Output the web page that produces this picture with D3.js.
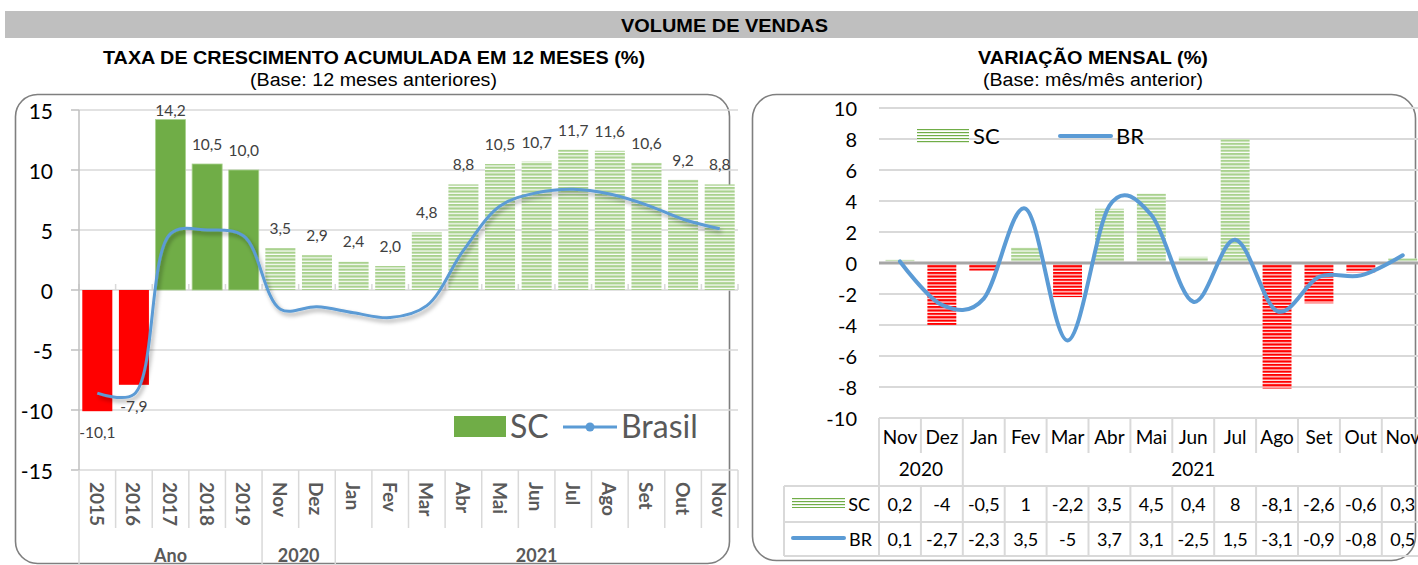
<!DOCTYPE html>
<html><head><meta charset="utf-8">
<script src="https://cdn.jsdelivr.net/npm/d3@7"></script>
<style>
html,body{margin:0;padding:0;background:#fff;}
svg{display:block;}
text{font-family:Lato,"Open Sans",sans-serif;}
.narrow{font-family:"Liberation Sans Narrow","Arial Narrow","Liberation Sans",Arial,sans-serif;font-stretch:condensed;}
</style></head>
<body>
<svg id="c" width="1418" height="565"></svg>
<script>
// ---------- DATA ----------
const leftCats = ["2015","2016","2017","2018","2019","Nov","Dez","Jan","Fev","Mar","Abr","Mai","Jun","Jul","Ago","Set","Out","Nov"];
const leftGroupLabels = ["Ano","2020","2021"];
const leftGroupSizes = [5,2,11];
const scAccum = [-10.1,-7.9,14.2,10.5,10.0,3.5,2.9,2.4,2.0,4.8,8.8,10.5,10.7,11.7,11.6,10.6,9.2,8.8];
const brAccum = [-8.6,-8.7,4.7,5.0,4.5,-1.6,-1.4,-1.9,-2.3,-1.3,3.3,7.0,8.1,8.4,8.0,7.1,5.9,5.1];
const leftTicks = [-15,-10,-5,0,5,10,15];

const rightCats = ["Nov","Dez","Jan","Fev","Mar","Abr","Mai","Jun","Jul","Ago","Set","Out","Nov"];
const rightGroupLabels = ["2020","2021"];
const rightGroupSizes = [2,11];
const scMonthly = [0.2,-4,-0.5,1,-2.2,3.5,4.5,0.4,8,-8.1,-2.6,-0.6,0.3];
const brMonthly = [0.1,-2.7,-2.3,3.5,-5,3.7,3.1,-2.5,1.5,-3.1,-0.9,-0.8,0.5];
const rightTicks = [-10,-8,-6,-4,-2,0,2,4,6,8,10];

const fmt = v => String(v).replace('.', ',');
const fmt1 = v => v.toFixed(1).replace('.', ',');

// ---------- SETUP ----------
const svg = d3.select("#c");
const defs = svg.append("defs");
function stripe(id, color, h, lineH){
  const p = defs.append("pattern").attr("id", id).attr("patternUnits","userSpaceOnUse")
    .attr("width", 10).attr("height", h);
  p.append("rect").attr("width",10).attr("height",h).attr("fill","#fff");
  p.append("rect").attr("width",10).attr("height",lineH).attr("fill",color);
}
stripe("stG", "#a9d18e", 3.4, 2.2);
stripe("stR", "#ff0000", 3.4, 2.2);
stripe("stLegG", "#70ad47", 3, 1.2);
const sh = defs.append("filter").attr("id","shadow").attr("x","-10%").attr("y","-10%").attr("width","130%").attr("height","130%");
sh.append("feDropShadow").attr("dx",2).attr("dy",3).attr("stdDeviation",2).attr("flood-color","#000").attr("flood-opacity",0.35);

// ---------- HEADER ----------
svg.append("rect").attr("x",5).attr("y",11).attr("width",1413).attr("height",27).attr("fill","#bfbfbf");
function title(txt, cx, cy, len, size, bold){
  svg.append("text").attr("class","narrow").attr("x",cx).attr("y",cy)
    .attr("text-anchor","middle").attr("dominant-baseline","central")
    .attr("font-size",size).attr("font-weight",bold?"bold":"normal").attr("fill","#000")
    .attr("textLength",len).attr("lengthAdjust","spacingAndGlyphs").text(txt);
}
title("VOLUME DE VENDAS", 724.5, 26, 207, 18, true);
title("TAXA DE CRESCIMENTO ACUMULADA EM 12 MESES (%)", 374, 57, 542, 19, true);
title("(Base: 12 meses anteriores)", 373.5, 80, 247, 18, false);
title("VARIAÇÃO MENSAL (%)", 1093, 57, 230, 19, true);
title("(Base: mês/mês anterior)", 1093, 80, 220, 18, false);

// boxes
svg.append("rect").attr("x",15.5).attr("y",94.5).attr("width",714).attr("height",469).attr("rx",22)
  .attr("fill","none").attr("stroke","#7f7f7f").attr("stroke-width",1.6);
svg.append("rect").attr("x",752.5).attr("y",94.5).attr("width",663).attr("height",466).attr("rx",24)
  .attr("fill","none").attr("stroke","#7f7f7f").attr("stroke-width",1.6);

// ---------- LEFT CHART ----------
const xL = d3.scaleBand().domain(d3.range(leftCats.length)).range([79, 738]).padding(0);
const yL = d3.scaleLinear().domain([-15, 15]).range([470, 110]);
const bwL = xL.bandwidth() * 0.82;
const gL = svg.append("g");

gL.selectAll(".gl").data(leftTicks).join("line")
  .attr("x1",79).attr("x2",738).attr("y1",d=>yL(d)).attr("y2",d=>yL(d))
  .attr("stroke","#d9d9d9").attr("stroke-width",1.5);

const groupOf = [];
leftGroupSizes.forEach((n,gi)=>{ for(let k=0;k<n;k++) groupOf.push(gi); });

gL.selectAll(".bar").data(scAccum).join("rect")
  .attr("x",(d,i)=>xL(i)+(xL.bandwidth()-bwL)/2)
  .attr("width",bwL)
  .attr("y",d=>yL(Math.max(0,d)))
  .attr("height",d=>Math.abs(yL(d)-yL(0)))
  .attr("fill",(d,i)=> d<0 ? "#ff0000" : (groupOf[i]===0 ? "#70ad47" : "url(#stG)"))
  .attr("stroke",(d,i)=> d<0 ? "none" : (groupOf[i]===0 ? "#a9d18e" : "none"))
  .attr("stroke-width",0.8);

gL.selectAll(".zt").data(d3.range(leftCats.length+1)).join("line")
  .attr("x1",i=>79+i*xL.step()).attr("x2",i=>79+i*xL.step())
  .attr("y1",yL(0)-6).attr("y2",yL(0)).attr("stroke","#d9d9d9").attr("stroke-width",1.5);

const lineL = d3.line().x((d,i)=>xL(i)+xL.bandwidth()/2).y(d=>yL(d)).curve(d3.curveCatmullRom.alpha(0.5));
gL.append("path").datum(brAccum).attr("d",lineL).attr("fill","none")
  .attr("stroke","#5b9bd5").attr("stroke-width",3).attr("filter","url(#shadow)");

gL.selectAll(".dl").data(scAccum).join("text")
  .attr("x",(d,i)=>xL(i)+xL.bandwidth()/2)
  .attr("y",d=> d>=0 ? Math.max(yL(d)-14, 116) : yL(d)+27)
  .attr("text-anchor","middle").attr("font-size",15.5).attr("fill","#404040")
  .text(d=>fmt1(d));

gL.append("line").attr("x1",79).attr("x2",79).attr("y1",yL(15)).attr("y2",yL(-15))
  .attr("stroke","#bfbfbf").attr("stroke-width",1.5);
gL.selectAll(".yt").data(leftTicks).join("line")
  .attr("x1",71).attr("x2",79).attr("y1",d=>yL(d)).attr("y2",d=>yL(d))
  .attr("stroke","#bfbfbf").attr("stroke-width",1.5);
gL.selectAll(".yl").data(leftTicks).join("text")
  .attr("x",53).attr("y",d=>yL(d)).attr("text-anchor","end").attr("dominant-baseline","central")
  .attr("font-size",21).attr("fill","#000").text(d=>d);

const groupStarts = [0];
leftGroupSizes.forEach((n,gi)=>groupStarts.push(groupStarts[gi]+n));
gL.selectAll(".xs").data(d3.range(leftCats.length+1)).join("line")
  .attr("x1",i=>79+i*xL.step()).attr("x2",i=>79+i*xL.step())
  .attr("y1",470).attr("y2",i=> groupStarts.includes(i) && i<leftCats.length ? 565 : 528)
  .attr("stroke","#d9d9d9").attr("stroke-width",1.5);
gL.selectAll(".xl").data(leftCats).join("text")
  .attr("transform",(d,i)=>`translate(${xL(i)+xL.bandwidth()/2},482) rotate(90)`)
  .attr("text-anchor","start").attr("dominant-baseline","central")
  .attr("font-size",19).attr("font-weight","bold").attr("fill","#595959").text(d=>d);
gL.selectAll(".gl2").data(leftGroupLabels).join("text")
  .attr("x",(d,gi)=>(xL(groupStarts[gi]) + xL(groupStarts[gi+1]-1)+xL.bandwidth())/2)
  .attr("y",555).attr("text-anchor","middle").attr("dominant-baseline","central")
  .attr("font-size",18).attr("font-weight","bold").attr("fill","#595959").text(d=>d);

gL.append("rect").attr("x",454).attr("y",416).attr("width",52).attr("height",21).attr("fill","#70ad47");
gL.append("text").attr("x",510).attr("y",438).attr("font-size",32).attr("fill","#595959").text("SC");
gL.append("line").attr("x1",563).attr("x2",617).attr("y1",427).attr("y2",427).attr("stroke","#5b9bd5").attr("stroke-width",3);
gL.append("circle").attr("cx",590).attr("cy",427).attr("r",4.5).attr("fill","#5b9bd5");
gL.append("text").attr("x",621).attr("y",438).attr("font-size",32).attr("fill","#595959").text("Brasil");

// ---------- RIGHT CHART ----------
const xR = d3.scaleBand().domain(d3.range(rightCats.length)).range([879, 879+13*41.9]).padding(0);
const yR = d3.scaleLinear().domain([-10, 10]).range([418, 108]);
const bwR = xR.bandwidth()*0.69;
const gR = svg.append("g");

gR.selectAll(".gl").data(rightTicks.filter(d=>d!==0 && d!==-10)).join("line")
  .attr("x1",879).attr("x2",1418).attr("y1",d=>yR(d)).attr("y2",d=>yR(d))
  .attr("stroke","#d9d9d9").attr("stroke-width",2);

gR.selectAll(".bar").data(scMonthly).join("rect")
  .attr("x",(d,i)=>xR(i)+(xR.bandwidth()-bwR)/2)
  .attr("width",bwR)
  .attr("y",d=>yR(Math.max(0,d)))
  .attr("height",d=>Math.abs(yR(d)-yR(0)))
  .attr("fill",d=> d<0 ? "url(#stR)" : "url(#stG)");

gR.append("line").attr("x1",879).attr("x2",1418).attr("y1",yR(0)).attr("y2",yR(0))
  .attr("stroke","#a6a6a6").attr("stroke-width",3);

const lineR = d3.line().x((d,i)=>xR(i)+xR.bandwidth()/2).y(d=>yR(d)).curve(d3.curveCatmullRom.alpha(0));
gR.append("path").datum(brMonthly).attr("d",lineR).attr("fill","none")
  .attr("stroke","#5b9bd5").attr("stroke-width",4).attr("stroke-linecap","round");

gR.selectAll(".yl").data(rightTicks).join("text")
  .attr("x",857).attr("y",d=>yR(d)).attr("text-anchor","end").attr("dominant-baseline","central")
  .attr("font-size",20).attr("fill","#000").text(d=>d);

gR.append("rect").attr("x",917).attr("y",128).attr("width",52).attr("height",16).attr("fill","url(#stLegG)");
gR.append("text").attr("x",973).attr("y",144).attr("font-size",22).attr("fill","#000").text("SC");
gR.append("line").attr("x1",1060).attr("x2",1111).attr("y1",136).attr("y2",136).attr("stroke","#5b9bd5").attr("stroke-width",4).attr("stroke-linecap","round");
gR.append("text").attr("x",1116).attr("y",144).attr("font-size",22).attr("fill","#000").text("BR");

const tc = "#d9d9d9";
const rGroupStarts = [0];
rightGroupSizes.forEach((n,gi)=>rGroupStarts.push(rGroupStarts[gi]+n));
const bnd = i => 879 + i*xR.step();
[418].forEach(y=>gR.append("line").attr("x1",879).attr("x2",1418).attr("y1",y).attr("y2",y).attr("stroke",tc).attr("stroke-width",2));
[486,522,556].forEach(y=>gR.append("line").attr("x1",784).attr("x2",1418).attr("y1",y).attr("y2",y).attr("stroke",tc).attr("stroke-width",2));
gR.selectAll(".ms").data(d3.range(rightCats.length+1)).join("line")
  .attr("x1",bnd).attr("x2",bnd).attr("y1",418)
  .attr("y2",i=> rGroupStarts.includes(i) ? 486 : 453)
  .attr("stroke",tc).attr("stroke-width",2);
gR.selectAll(".ds").data(d3.range(rightCats.length+1)).join("line")
  .attr("x1",bnd).attr("x2",bnd).attr("y1",486).attr("y2",556)
  .attr("stroke",tc).attr("stroke-width",2);
gR.append("line").attr("x1",784).attr("x2",784).attr("y1",486).attr("y2",556).attr("stroke",tc).attr("stroke-width",2);

gR.selectAll(".ml").data(rightCats).join("text")
  .attr("x",(d,i)=>xR(i)+xR.bandwidth()/2).attr("y",436)
  .attr("text-anchor","middle").attr("dominant-baseline","central")
  .attr("font-size",19).attr("fill","#000").text(d=>d);
gR.selectAll(".yg").data(rightGroupLabels).join("text")
  .attr("x",(d,gi)=>(bnd(rGroupStarts[gi])+bnd(rGroupStarts[gi+1]))/2).attr("y",468)
  .attr("text-anchor","middle").attr("dominant-baseline","central")
  .attr("font-size",19).attr("fill","#000").text(d=>d);
gR.selectAll(".sv").data(scMonthly).join("text")
  .attr("x",(d,i)=>xR(i)+xR.bandwidth()/2).attr("y",504)
  .attr("text-anchor","middle").attr("dominant-baseline","central")
  .attr("font-size",18).attr("fill","#000").text(fmt);
gR.selectAll(".bv").data(brMonthly).join("text")
  .attr("x",(d,i)=>xR(i)+xR.bandwidth()/2).attr("y",539)
  .attr("text-anchor","middle").attr("dominant-baseline","central")
  .attr("font-size",18).attr("fill","#000").text(fmt);
gR.append("rect").attr("x",792).attr("y",498).attr("width",53).attr("height",10).attr("fill","url(#stLegG)");
gR.append("text").attr("x",870).attr("y",504).attr("text-anchor","end").attr("dominant-baseline","central").attr("font-size",18).attr("fill","#000").text("SC");
gR.append("line").attr("x1",793).attr("x2",844).attr("y1",538).attr("y2",538).attr("stroke","#5b9bd5").attr("stroke-width",4).attr("stroke-linecap","round");
gR.append("text").attr("x",872).attr("y",539).attr("text-anchor","end").attr("dominant-baseline","central").attr("font-size",18).attr("fill","#000").text("BR");
</script>
</body></html>
